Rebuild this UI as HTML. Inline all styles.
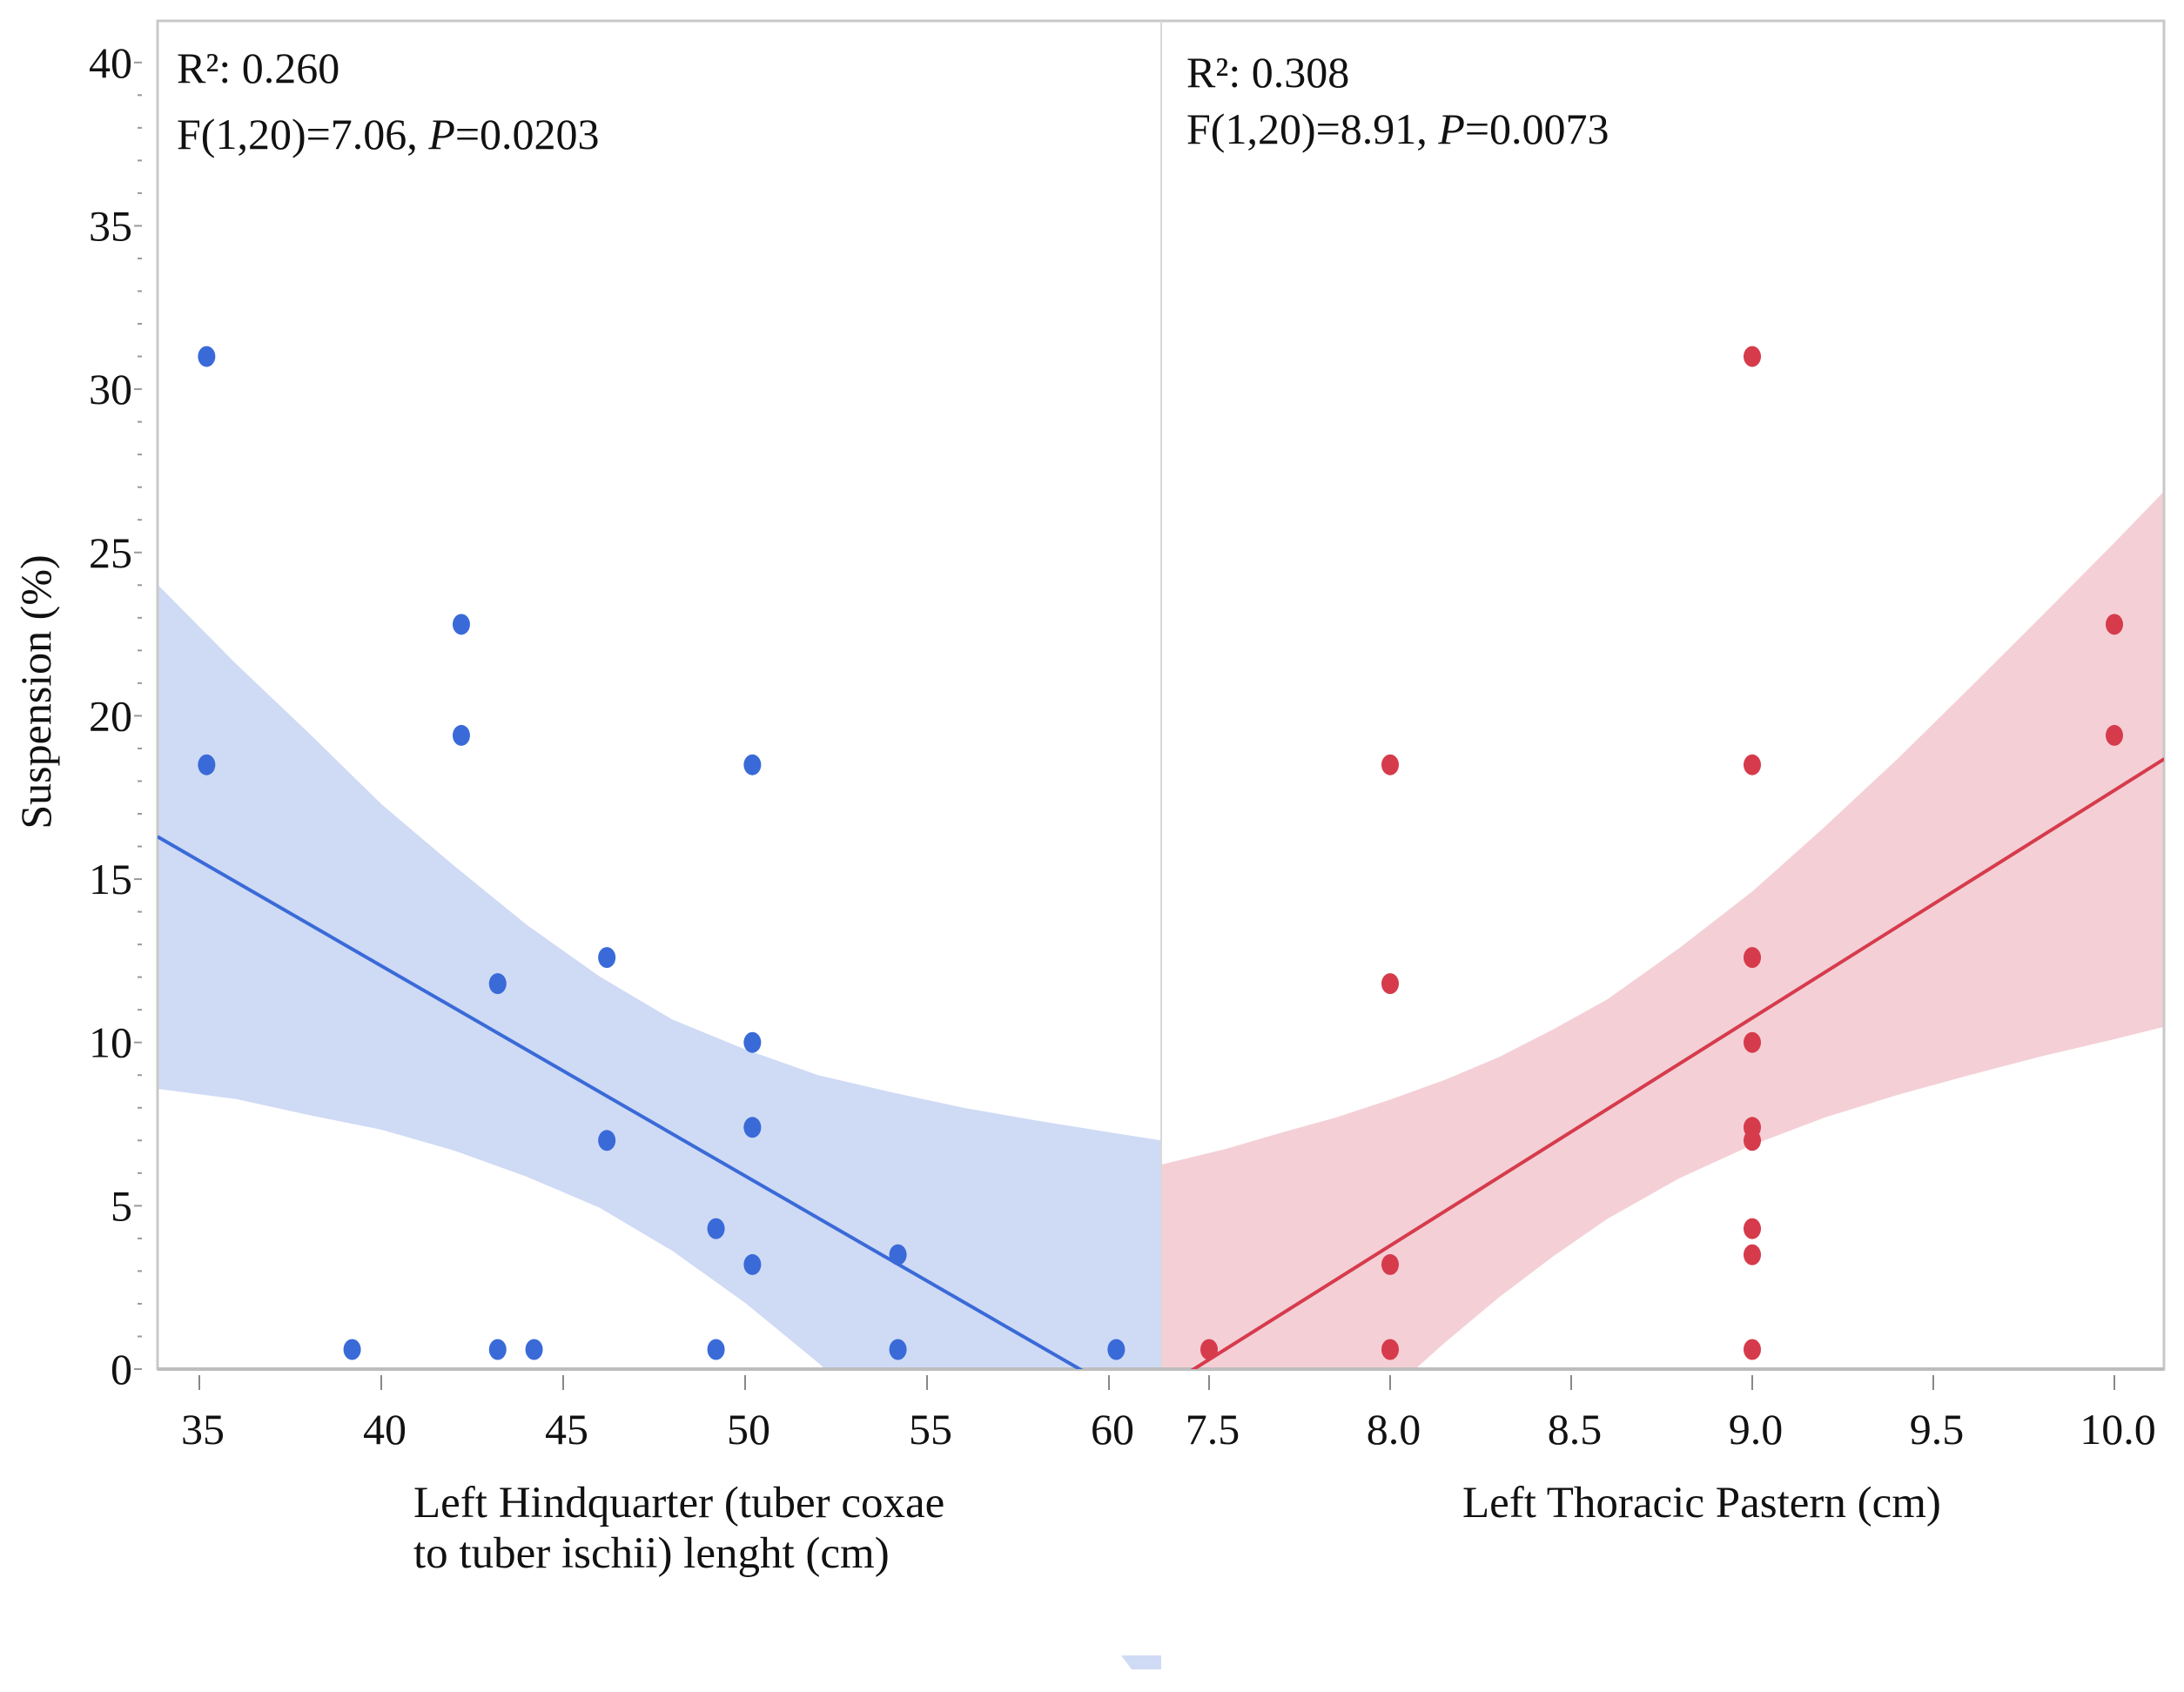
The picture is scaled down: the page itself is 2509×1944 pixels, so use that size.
<!DOCTYPE html>
<html><head><meta charset="utf-8"><style>
html,body{margin:0;padding:0;background:#fff}
svg{display:block}
text{font-family:"Liberation Serif",serif;fill:#111}
</style></head><body>
<svg id="chart" width="2509" height="1944" viewBox="0 0 2509 1944" xmlns="http://www.w3.org/2000/svg">
<defs>
<clipPath id="clipL"><rect x="181" y="24" width="1153" height="1549"/></clipPath>
<clipPath id="clipR"><rect x="1334" y="24" width="1152" height="1549"/></clipPath>
</defs>
<g id="bandL" clip-path="url(#clipL)"></g>
<g id="bandR" clip-path="url(#clipR)"></g>
<rect x="181" y="24" width="2305" height="1549" fill="none" stroke="#c8c8c8" stroke-width="3"/>
<line x1="1334" y1="24" x2="1334" y2="1573" stroke="#d8d8d8" stroke-width="2"/>
<line x1="181" y1="1573" x2="2486" y2="1573" stroke="#bdbdbd" stroke-width="4"/>
<g id="lines"></g>
<g id="points"></g>
<g id="axes"></g>
<polygon points="1288,1902 1334,1902 1334,1918 1300,1918" fill="#cfdaf5"/>
<text x="203" y="95" font-size="50">R²: 0.260</text>
<text x="203" y="171" font-size="50">F(1,20)=7.06, <tspan font-style="italic">P</tspan>=0.0203</text>
<text x="1363" y="100" font-size="50">R²: 0.308</text>
<text x="1363" y="165" font-size="50">F(1,20)=8.91, <tspan font-style="italic">P</tspan>=0.0073</text>
<text x="475" y="1743" font-size="51">Left Hindquarter (tuber coxae</text>
<text x="475" y="1801" font-size="51">to tuber ischii) lenght (cm)</text>
<text x="1680" y="1743" font-size="51">Left Thoracic Pastern (cm)</text>
<text transform="translate(58,795) rotate(-90)" text-anchor="middle" font-size="50">Suspension (%)</text>
</svg>
<script>
const leftX=[35.2,35.2,42.2,42.2,43.2,46.2,46.2,49.2,50.2,50.2,50.2,50.2,54.2,39.2,43.2,44.2,49.2,54.2,60.2];
const leftY=[31.0,18.5,22.8,19.4,11.8,12.6,7.0,4.3,18.5,10.0,7.4,3.2,3.5,0.6,0.6,0.6,0.6,0.6,0.6];
const rightX=[7.5,8.0,8.0,8.0,8.0,9.0,9.0,9.0,9.0,9.0,9.0,9.0,9.0,9.0,10.0,10.0];
const rightY=[0.6,18.5,11.8,3.2,0.6,31.0,18.5,12.6,10.0,7.4,7.0,4.3,3.5,0.6,22.8,19.4];
const leftBandX=[33.85,36,38,40,42,44,46,48,50,52,54,56,58,60,61.45];
const leftBandLo=[8.58,8.27,7.78,7.33,6.69,5.89,4.94,3.62,2.03,0.2,-1.8,-3.9,-6.07,-8.3,-9.9];
const leftBandHi=[24.02,21.6,19.48,17.3,15.41,13.6,12.02,10.7,9.79,9.0,8.48,8.0,7.61,7.25,7.0];
const leftFitX=[33.85,61.45];
const leftFitY=[16.3,-1.45];
const rightBandX=[7.369,7.55,7.7,7.85,8.0,8.15,8.3,8.45,8.6,8.8,9.0,9.2,9.4,9.6,9.8,10.0,10.138];
const rightBandLo=[-7.5,-5.5,-3.86,-2.2,-0.69,0.8,2.19,3.45,4.6,5.85,6.86,7.7,8.39,9.0,9.58,10.1,10.48];
const rightBandHi=[6.26,6.75,7.24,7.7,8.25,8.85,9.55,10.4,11.32,12.9,14.62,16.6,18.67,20.85,23.06,25.3,26.88];
const rightFitX=[7.369,10.138];
const rightFitY=[-0.62,18.68];
const yTicks=[0,5,10,15,20,25,30,35,40];
const leftTicks=[35,40,45,50,55,60];
const rightTicks=["7.5","8.0","8.5","9.0","9.5","10.0"];

const NS="http://www.w3.org/2000/svg";
const ys=v=>1573-v*37.53;
const xl=v=>229+(v-35)*41.8;
const xr=v=>1389+(v-7.5)*416;
function mk(tag,attrs,parent){const e=document.createElementNS(NS,tag);for(const k in attrs)e.setAttribute(k,attrs[k]);document.getElementById(parent).appendChild(e);return e;}

function band(bx,lo,hi,xf,fill,parent){
  let pts=[];
  for(let i=0;i<bx.length;i++)pts.push(xf(bx[i])+","+ys(hi[i]));
  for(let i=bx.length-1;i>=0;i--)pts.push(xf(bx[i])+","+ys(lo[i]));
  const p=mk("polygon",{points:pts.join(" "),fill:fill},parent);
  
  
}
band(leftBandX,leftBandLo,leftBandHi,xl,"#cfdaf5","bandL");
band(rightBandX,rightBandLo,rightBandHi,xr,"#f4d0d6","bandR");

function fit(fx,fy,xf,col,clip,name){
  const g=mk("g",{"clip-path":clip},"lines");
  const l=mk("line",{x1:xf(fx[0]),y1:ys(fy[0]),x2:xf(fx[1]),y2:ys(fy[1]),stroke:col,"stroke-width":4},"lines");
  g.appendChild(l);
  
  
}
fit(leftFitX,leftFitY,xl,"#3a6ad8","url(#clipL)","left-fit-line");
fit(rightFitX,rightFitY,xr,"#d63b4c","url(#clipR)","right-fit-line");

for(let i=0;i<leftX.length;i++){
  const c=mk("ellipse",{cx:xl(leftX[i]),cy:ys(leftY[i]),rx:10,ry:12,fill:"#3a6ad8"},"points");
  
  
}
for(let i=0;i<rightX.length;i++){
  const c=mk("ellipse",{cx:xr(rightX[i]),cy:ys(rightY[i]),rx:10,ry:12,fill:"#d63b4c"},"points");
  
  
}
for(let v=0;v<=40;v++){
  const major=v%5===0;
  const t=mk("line",{x1:major?154:158,y1:ys(v),x2:163,y2:ys(v),stroke:"#999","stroke-width":2},"axes");
  
  
}
yTicks.forEach(v=>{
  const t=mk("text",{x:152,y:ys(v)+17,"text-anchor":"end","font-size":50},"axes");
  t.textContent=v;
  
  
});
function xt(v,lab,xf){
  const l=mk("line",{x1:xf(v),y1:1580,x2:xf(v),y2:1597,stroke:"#888","stroke-width":2},"axes");
  
  
  const t=mk("text",{x:xf(v)+4,y:1659,"text-anchor":"middle","font-size":50},"axes");
  t.textContent=lab;
  
  
}
leftTicks.forEach(v=>xt(v,String(v),xl));
rightTicks.forEach(v=>xt(parseFloat(v),v,xr));
</script>
</body></html>
